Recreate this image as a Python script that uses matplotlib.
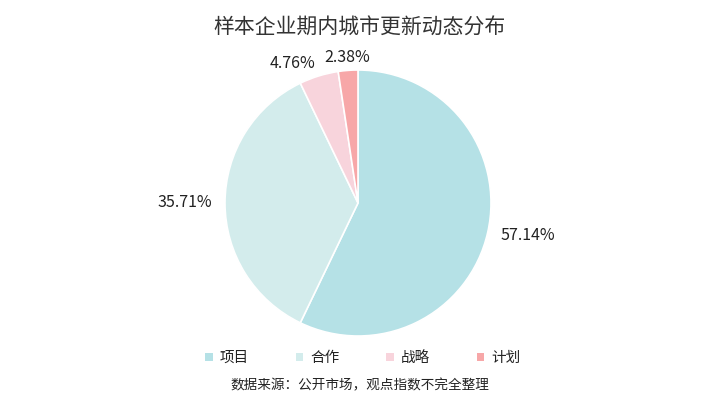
import matplotlib
matplotlib.use("Agg")
import matplotlib.pyplot as plt
from matplotlib.patches import Patch

plt.rcParams['font.family'] = ['Noto Sans CJK SC', 'DejaVu Sans']

categories = ['项目', '合作', '战略', '计划']
values = [57.14, 35.71, 4.76, 2.38]
colors = ['#b5e1e6', '#d3ecec', '#f8d4dc', '#f7a7a8']
title = '样本企业期内城市更新动态分布'
source = '数据来源：公开市场，观点指数不完全整理'

fig = plt.figure(figsize=(7.19, 4.05), dpi=100)
W, H = 719, 405
cx, cy, r = 358, 202, 133
ax = fig.add_axes([(cx - r) / W, (cy - r) / H, 2 * r / W, 2 * r / H])
ax.set_xlim(-1, 1)
ax.set_ylim(-1, 1)
ax.axis('off')

labels = [f'{v:.2f}%' for v in values]
wedges, texts = ax.pie(values, colors=colors, startangle=90, counterclock=False,
                       labels=labels, labeldistance=1.1, radius=1,
                       wedgeprops=dict(edgecolor='white', linewidth=1.2),
                       textprops=dict(fontsize=11.5, color='#222222'))
ax.set_xlim(-1, 1)
ax.set_ylim(-1, 1)
has = ['left', 'right', 'right', 'center']
for t, h in zip(texts, has):
    t.set_ha(h)

fig.text(0.5, 1 - 28 / H, title, ha='center', va='center', fontsize=15,
         color='#333333', fontweight='medium')

handles = [Patch(facecolor=c, edgecolor='none') for c in colors]
leg = fig.legend(handles, categories, loc='center', bbox_to_anchor=(363 / W, 1 - 358 / H),
                 ncol=4, frameon=False, fontsize=10.5, handlelength=0.5, handleheight=0.5,
                 handletextpad=0.5, columnspacing=3.2)
for t in leg.get_texts():
    t.set_color('#222222')
    t.set_fontweight('medium')

fig.text(0.5, 1 - 385 / H, source, ha='center', va='center', fontsize=9.8,
         color='#222222', fontweight='medium')

fig.savefig('out.png', dpi=100)
